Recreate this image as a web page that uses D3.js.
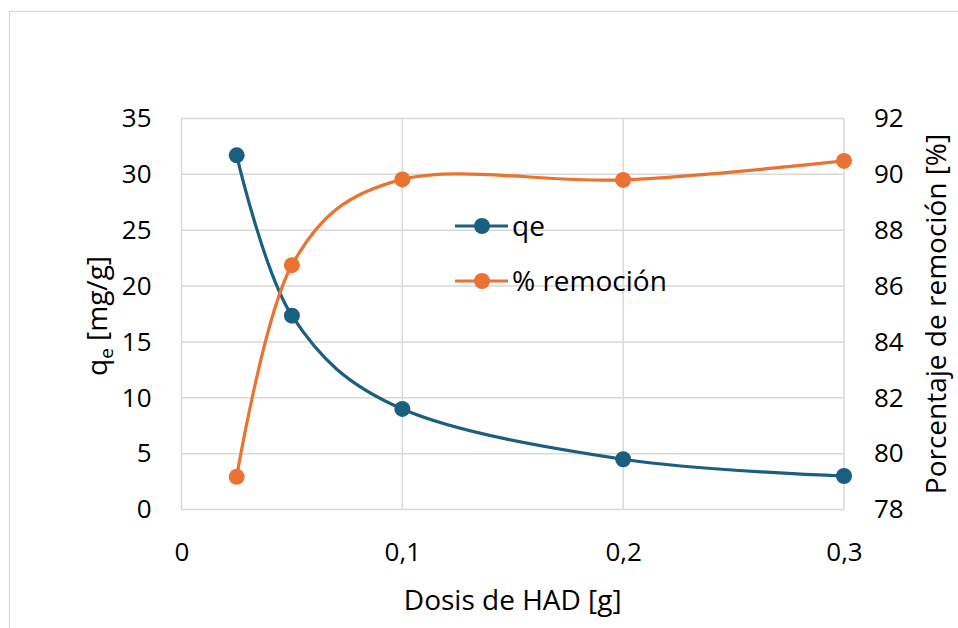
<!DOCTYPE html>
<html>
  <head>
    <meta charset="utf-8">
    <title>qe y % remoción vs dosis de HAD</title>
    <script src="https://cdn.jsdelivr.net/npm/d3@7/dist/d3.min.js"></script>
    <style>
      body { margin: 0; background: #fff; }
      svg { font-family: "Open Sans", "Noto Sans", sans-serif; }
    </style>
  </head>
  <body>
    <svg id="chart"></svg>
    <script>
// data
var dosis = [0.025, 0.05, 0.1, 0.2, 0.3];
var qe = [31.7, 17.35, 9.0, 4.5, 3.0];
var remocion = [79.17, 86.75, 89.82, 89.8, 90.48];

var xTicks = [0, 0.1, 0.2, 0.3];
var yLeftTicks = [0, 5, 10, 15, 20, 25, 30, 35];
var yRightTicks = [78, 80, 82, 84, 86, 88, 90, 92];

var colors = { qe: "#1a5f80", rem: "#eb7331", grid: "#d9d9d9", text: "#000" };

var W = 958, H = 628;
var plot = { left: 181.5, right: 844, top: 118.5, bottom: 509.5 };

var svg = d3.select("#chart").attr("width", W).attr("height", H);

// outer chart frame (runs off the page on the right / bottom)
svg.append("rect")
    .attr("x", 9.5).attr("y", 11.5)
    .attr("width", W + 20).attr("height", H + 20)
    .attr("fill", "#fff")
    .attr("stroke", colors.grid)
    .attr("stroke-width", 1.3);

var x = d3.scaleLinear().domain([0, 0.3]).range([plot.left, plot.right]);
var yL = d3.scaleLinear().domain([0, 35]).range([plot.bottom, plot.top]);
var yR = d3.scaleLinear().domain([78, 92]).range([plot.bottom, plot.top]);

var fmt = function(d) { return d === 0 ? "0" : d3.format(".1f")(d).replace(".", ","); };

// gridlines
var g = svg.append("g");
g.selectAll(".hgrid").data(yLeftTicks).enter().append("line")
    .attr("x1", plot.left).attr("x2", plot.right)
    .attr("y1", function(d) { return yL(d); }).attr("y2", function(d) { return yL(d); })
    .attr("stroke", colors.grid).attr("stroke-width", 1.5);
g.selectAll(".vgrid").data(xTicks).enter().append("line")
    .attr("x1", function(d) { return x(d); }).attr("x2", function(d) { return x(d); })
    .attr("y1", plot.top).attr("y2", plot.bottom)
    .attr("stroke", colors.grid).attr("stroke-width", 1.5);

// axes (labels only, Excel style)
var fs = 26, fsTitle = 28;
var xAxis = svg.append("g")
    .attr("transform", "translate(0," + plot.bottom + ")")
    .call(d3.axisBottom(x).tickValues(xTicks).tickFormat(fmt).tickSize(0).tickPadding(43));
var yAxisL = svg.append("g")
    .attr("transform", "translate(" + plot.left + ",0)")
    .call(d3.axisLeft(yL).tickValues(yLeftTicks).tickSize(0).tickPadding(30));
var yAxisR = svg.append("g")
    .attr("transform", "translate(" + plot.right + ",0)")
    .call(d3.axisRight(yR).tickValues(yRightTicks).tickSize(0).tickPadding(30));

[xAxis, yAxisL, yAxisR].forEach(function(a) {
  a.select(".domain").remove();
  a.selectAll("text")
    .attr("fill", colors.text)
    .style("font-family", "'Open Sans', 'Noto Sans', sans-serif")
    .style("font-size", fs + "px");
});
xAxis.selectAll("text").attr("dy", "0.32em");

// axis titles
svg.append("text")
    .attr("x", (plot.left + plot.right) / 2)
    .attr("y", 600)
    .attr("dy", "0.35em")
    .attr("text-anchor", "middle")
    .style("font-size", fsTitle + "px")
    .text("Dosis de HAD [g]");

var lt = svg.append("text")
    .attr("transform", "translate(97,316)rotate(-90)")
    .attr("text-anchor", "middle")
    .attr("dy", "0.35em")
    .style("font-size", fsTitle + "px");
lt.append("tspan").text("q");
lt.append("tspan").attr("dy", "0.3em").style("font-size", "19px").text("e");
lt.append("tspan").attr("dy", "-0.2em").text(" [mg/g]");

svg.append("text")
    .attr("transform", "translate(936," + ((plot.top + plot.bottom) / 2) + ")rotate(-90)")
    .attr("text-anchor", "middle")
    .attr("dy", "0.35em")
    .style("font-size", fsTitle + "px")
    .text("Porcentaje de remoción [%]");

// series
var curve = d3.curveCatmullRom.alpha(0);
var lineQ = d3.line().curve(curve)
    .x(function(d, i) { return x(dosis[i]); })
    .y(function(d) { return yL(d); });
var lineR = d3.line().curve(curve)
    .x(function(d, i) { return x(dosis[i]); })
    .y(function(d) { return yR(d); });

svg.append("path").datum(qe)
    .attr("d", lineQ).attr("fill", "none")
    .attr("stroke", colors.qe).attr("stroke-width", 3.2);
svg.selectAll(".ptq").data(qe).enter().append("circle")
    .attr("cx", function(d, i) { return x(dosis[i]); })
    .attr("cy", function(d) { return yL(d); })
    .attr("r", 8).attr("fill", colors.qe);

svg.append("path").datum(remocion)
    .attr("d", lineR).attr("fill", "none")
    .attr("stroke", colors.rem).attr("stroke-width", 3.2);
svg.selectAll(".ptr").data(remocion).enter().append("circle")
    .attr("cx", function(d, i) { return x(dosis[i]); })
    .attr("cy", function(d) { return yR(d); })
    .attr("r", 8).attr("fill", colors.rem);

// legend
var legend = [
  { name: "qe", color: colors.qe, y: 226 },
  { name: "% remoción", color: colors.rem, y: 281 }
];
var lg = svg.selectAll(".legend").data(legend).enter().append("g")
    .attr("transform", function(d) { return "translate(455," + d.y + ")"; });
lg.append("line").attr("x1", 0).attr("x2", 53)
    .attr("stroke", function(d) { return d.color; }).attr("stroke-width", 3.2);
lg.append("circle").attr("cx", 27).attr("r", 8)
    .attr("fill", function(d) { return d.color; });
lg.append("text").attr("x", 57).attr("dy", "0.35em")
    .style("font-size", fsTitle + "px")
    .text(function(d) { return d.name; });
    </script>
  </body>
</html>
